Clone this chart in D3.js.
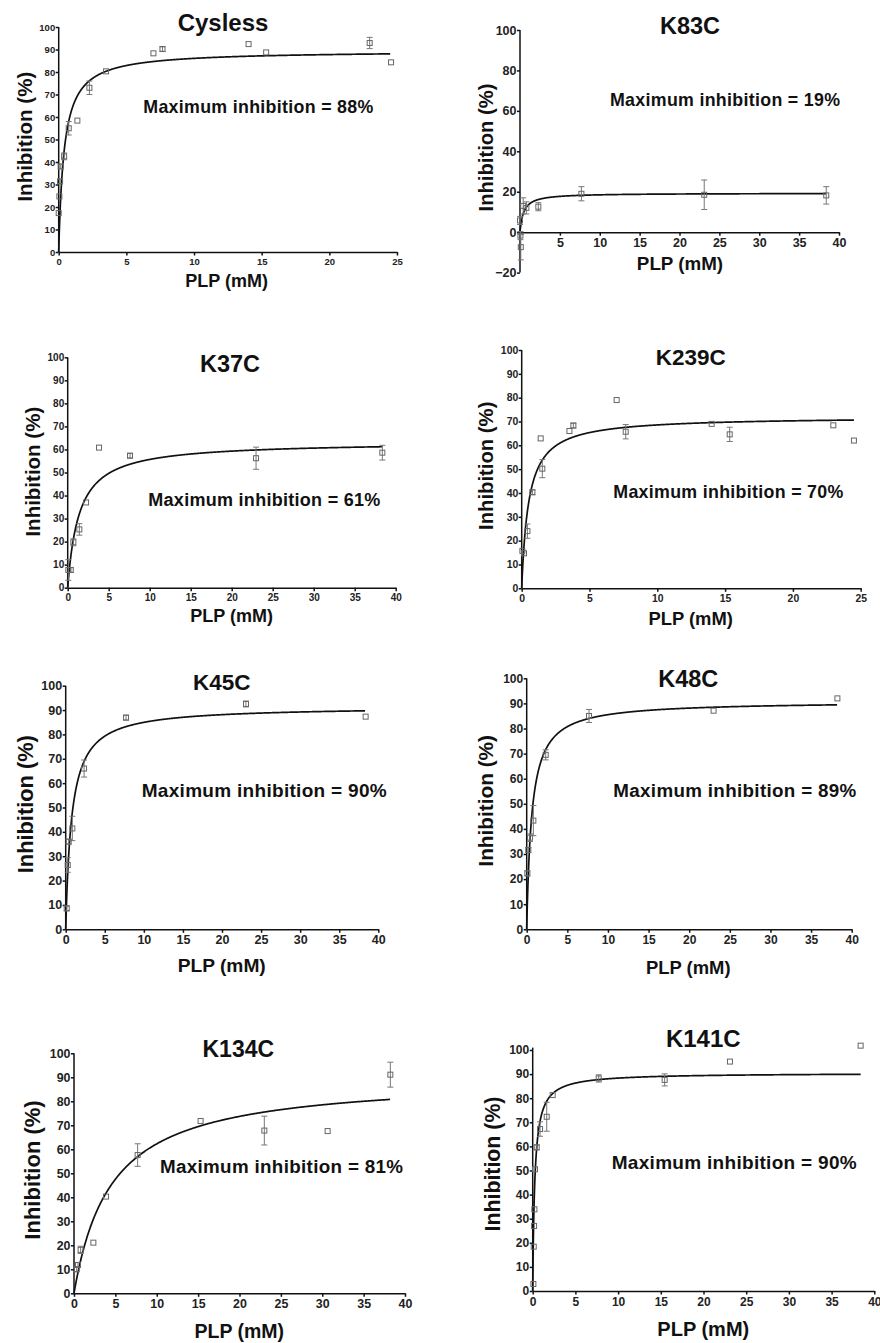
<!DOCTYPE html>
<html lang="en">
<head>
<meta charset="UTF-8" />
<title>PLP inhibition</title>
<script src="https://cdn.jsdelivr.net/npm/d3@7"></script>
<style>
  body { margin: 0; background: #fff; }
  text { font-family: Arial, "Liberation Sans", sans-serif; font-weight: bold; fill: #111; }
  .axis path, .axis line { stroke: #111; stroke-width: 1.5; }
  .axis text { fill: #222; }
</style>
</head>
<body>
<svg width="880" height="1343"></svg>
<script>
// panel names and fitted maxima (%)
const names = ["Cysless", "K83C", "K37C", "K239C", "K45C", "K48C", "K134C", "K141C"];
const maxLabels = [88, 19, 61, 70, 90, 89, 81, 90];

// hyperbolic fit parameters: Bmax, K (mM), last x of curve
const fitMax = [89.5, 19.3, 63.4, 72.1, 91.5, 90.9, 90.3, 90.5];
const fitK = [0.4, 0.45, 1.39, 0.517, 0.77, 0.63, 4.5, 0.245];
const fitEnd = [24.5, 38.4, 38.4, 24.5, 38.3, 38.2, 38.2, 38.4];

// measured points: PLP (mM), inhibition (%), error
const cyslessX = [0, 0.05, 0.1, 0.15, 0.4, 0.74, 1.38, 2.27, 3.5, 7.0, 7.67, 14.03, 15.33, 22.98, 24.56];
const cyslessY = [17.3, 24.7, 31.4, 38, 42.5, 55, 58.4, 73, 80.3, 88.3, 90.2, 92.4, 88.7, 92.9, 84.3];
const cyslessE = [0, 0, 1, 1, 1.5, 3, 0, 3, 0.5, 0.5, 1, 0.5, 0.8, 2.5, 0];

const k83cX = [0, 0.05, 0.1, 0.4, 0.8, 2.3, 7.7, 23.1, 38.4];
const k83cY = [5.8, -1.7, -7.4, 13, 12, 12.6, 19, 18.5, 18.2];
const k83cE = [2, 2, 6.3, 4, 3, 2, 3.5, 7.3, 4.3];

const k37cX = [0.08, 0.37, 0.69, 1.42, 2.24, 3.82, 7.6, 22.97, 38.37];
const k37cY = [7.7, 7.7, 19.7, 25.3, 37, 60.8, 57.3, 56.2, 58.6];
const k37cE = [4.5, 1, 1.5, 2.5, 0.5, 0.5, 1, 4.8, 3.2];

const k239cX = [0.05, 0.17, 0.42, 0.79, 1.4, 1.52, 3.52, 3.81, 7.0, 7.67, 14.01, 15.34, 22.98, 24.5];
const k239cY = [15.7, 14.7, 24, 40.3, 62.9, 50.2, 66, 68.3, 79, 65.7, 69, 64.6, 68.4, 62];
const k239cE = [0.5, 0.5, 3, 1, 0, 3.8, 0, 1, 0, 3, 0.5, 3, 0.8, 0];

const k45cX = [0.13, 0.26, 0.38, 0.85, 2.35, 7.72, 23.07, 38.38];
const k45cY = [8.6, 26.4, 36, 41.4, 66, 86.9, 92.5, 87.3];
const k45cE = [1, 3, 1, 5, 3.5, 1, 1.2, 0];

const k48cX = [0.08, 0.2, 0.41, 0.82, 2.34, 7.67, 23.0, 38.24];
const k48cY = [22.3, 31.6, 36.5, 43.3, 69.5, 85, 87.1, 92];
const k48cE = [1, 1, 1.5, 6, 2, 2.6, 0.5, 0.8];

const k134cX = [0.32, 0.48, 0.8, 2.34, 3.87, 7.69, 15.3, 23.0, 30.65, 38.23];
const k134cY = [10, 11.8, 18.1, 21.1, 40.3, 57.6, 71.8, 67.8, 67.6, 91.1];
const k134cE = [1, 1, 1.5, 0.5, 0.5, 4.7, 0.5, 6, 0.5, 5.2];

const k141cX = [0.08, 0.12, 0.16, 0.2, 0.27, 0.47, 0.86, 1.64, 2.34, 7.73, 15.45, 23.1, 38.4];
const k141cY = [2.9, 18.4, 27, 33.9, 50.5, 59.6, 67.2, 72.3, 81.3, 88.2, 87.6, 95.2, 101.8];
const k141cE = [0.5, 0.5, 0.5, 0.5, 0.5, 1, 3, 6, 0.5, 1.5, 2.5, 0.8, 0];

const seriesX = [cyslessX, k83cX, k37cX, k239cX, k45cX, k48cX, k134cX, k141cX];
const seriesY = [cyslessY, k83cY, k37cY, k239cY, k45cY, k48cY, k134cY, k141cY];
const seriesE = [cyslessE, k83cE, k37cE, k239cE, k45cE, k48cE, k134cE, k141cE];

// axis ranges per panel
const xMaxes = [25, 40, 40, 25, 40, 40, 40, 40];
const yMins = [0, -20, 0, 0, 0, 0, 0, 0];
const yStep = [10, 20, 10, 10, 10, 10, 10, 10];

// page layout (pixels)
const layout = [
  { l: 58.7, r: 397, t: 27, b: 252, fs: 9.5, title: [223, 30.7, 24], ann: [143.3, 112.7, 230], xl: [226.7, 287, 18], yl: [31.7, 136.7, 20.5] },
  { l: 520, r: 839, t: 30, b: 272.6, fs: 12.5, title: [690, 34.3, 23.5], ann: [610, 106, 230], xl: [680, 270, 18.8], yl: [493, 147.5, 20.2] },
  { l: 67.7, r: 395.7, t: 357.3, b: 587.7, fs: 10, title: [230, 371.7, 23.5], ann: [148.3, 506, 232], xl: [231.7, 621.7, 18], yl: [40, 471.7, 20.5] },
  { l: 521.7, r: 860.7, t: 350, b: 588.3, fs: 10.4, title: [690.7, 365, 22.5], ann: [613.3, 498.3, 230], xl: [690.7, 625, 18.4], yl: [493.3, 465.8, 20.3] },
  { l: 65.7, r: 378.3, t: 685.7, b: 929.3, fs: 12.5, title: [221.7, 690, 22.5], ann: [141.7, 796.7, 245], xl: [221.7, 971.7, 19.2], yl: [33.3, 804.2, 21.8] },
  { l: 526.7, r: 851.7, t: 678.3, b: 929.3, fs: 12, title: [688.3, 687.3, 23.5], ann: [613.3, 796.7, 243], xl: [688.3, 974, 18.4], yl: [493.3, 800.8, 20.8] },
  { l: 74, r: 405, t: 1053.3, b: 1293.3, fs: 12.4, title: [238.3, 1057.3, 23], ann: [160, 1173.3, 243], xl: [239.3, 1338.3, 19.5], yl: [40, 1170, 22] },
  { l: 532.7, r: 874.3, t: 1050, b: 1291, fs: 12, title: [703.3, 1046.7, 24], ann: [611.7, 1169.3, 245], xl: [703.3, 1336, 20], yl: [500, 1164, 21.3] }
];

const svg = d3.select("svg");

names.forEach((name, i) => {
  const L = layout[i];
  const g = svg.append("g");

  const x = d3.scaleLinear().domain([0, xMaxes[i]]).range([L.l, L.r]);
  const y = d3.scaleLinear().domain([yMins[i], 100]).range([L.b, L.t]);

  // x axis sits on y = 0
  const xTicks = d3.range(0, xMaxes[i] + 0.01, 5).filter(v => !(yMins[i] < 0 && v === 0));
  const xAxis = g.append("g")
    .attr("class", "axis")
    .attr("transform", `translate(0,${y(0)})`)
    .call(d3.axisBottom(x).tickValues(xTicks).tickSize(3.5).tickSizeOuter(0).tickPadding(2.5));
  xAxis.selectAll("text").style("font-size", L.fs + "px");

  const yTicks = d3.range(yMins[i], 100.01, yStep[i]);
  const yTop = i === 7 ? 101 : 100;
  const yAxis = g.append("g")
    .attr("class", "axis")
    .attr("transform", `translate(${L.l},0)`)
    .call(d3.axisLeft(y).tickValues(yTicks).tickSize(3).tickSizeOuter(0).tickPadding(0.5));
  yAxis.select(".domain").attr("d", `M0,${y(yMins[i])}V${y(yTop)}`);
  yAxis.selectAll("text").style("font-size", L.fs + "px");

  // fitted curve
  const curve = d3.range(0, 801).map(j => {
    const xv = fitEnd[i] * Math.pow(j / 800, 2);
    return [xv, fitMax[i] * xv / (fitK[i] + xv)];
  });
  g.append("path")
    .datum(curve)
    .attr("fill", "none")
    .attr("stroke", "#111")
    .attr("stroke-width", 1.7)
    .attr("d", d3.line().x(d => x(d[0])).y(d => y(d[1])));

  // error bars and open squares
  const pts = seriesX[i].map((xv, j) => ({ x: xv, y: seriesY[i][j], e: seriesE[i][j] }));
  const eb = g.append("g").attr("stroke", "#777").attr("stroke-width", 1);
  pts.filter(d => d.e > 0.8).forEach(d => {
    const cx = x(d.x);
    eb.append("line").attr("x1", cx).attr("x2", cx).attr("y1", y(d.y - d.e)).attr("y2", y(d.y + d.e));
    eb.append("line").attr("x1", cx - 3).attr("x2", cx + 3).attr("y1", y(d.y - d.e)).attr("y2", y(d.y - d.e));
    eb.append("line").attr("x1", cx - 3).attr("x2", cx + 3).attr("y1", y(d.y + d.e)).attr("y2", y(d.y + d.e));
  });
  g.append("g")
    .selectAll("rect")
    .data(pts)
    .enter()
    .append("rect")
    .attr("x", d => x(d.x) - 2.5)
    .attr("y", d => y(d.y) - 2.5)
    .attr("width", 5)
    .attr("height", 5)
    .attr("fill", "none")
    .attr("stroke", "#666")
    .attr("stroke-width", 1);

  // texts
  g.append("text")
    .attr("x", L.title[0]).attr("y", L.title[1])
    .attr("text-anchor", "middle")
    .style("font-size", L.title[2] + "px")
    .text(name);

  g.append("text")
    .attr("x", L.ann[0]).attr("y", L.ann[1])
    .attr("textLength", L.ann[2])
    .attr("lengthAdjust", "spacing")
    .style("font-size", (L.ann[2] / 12.9).toFixed(1) + "px")
    .text(`Maximum inhibition = ${maxLabels[i]}%`);

  g.append("text")
    .attr("x", L.xl[0]).attr("y", L.xl[1])
    .attr("text-anchor", "middle")
    .style("font-size", L.xl[2] + "px")
    .text("PLP (mM)");

  g.append("text")
    .attr("transform", `translate(${L.yl[0]},${L.yl[1]}) rotate(-90)`)
    .attr("text-anchor", "middle")
    .style("font-size", L.yl[2] + "px")
    .text("Inhibition (%)");
});
</script>
</body>
</html>
